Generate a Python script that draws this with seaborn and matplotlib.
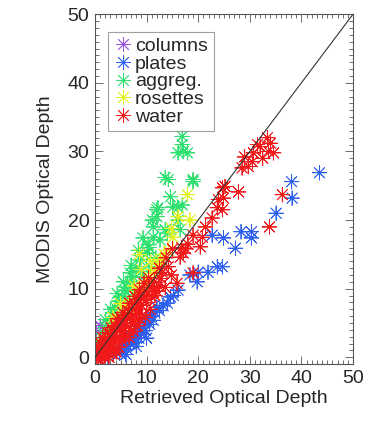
import matplotlib
matplotlib.use("Agg")
import matplotlib.pyplot as plt
from matplotlib.ticker import MultipleLocator
import numpy as np
import pandas as pd
import seaborn as sns

sns.set_theme(style="ticks")
plt.rcParams['font.family'] = ['Liberation Sans', 'DejaVu Sans']

categories = ["columns", "plates", "aggreg.", "rosettes", "water"]
colors = ["#9955dd", "#2d5ff0", "#2ee070", "#e0f020", "#f01818"]

columns_x = [0.4, 1.2, 2.2, 0.7, 0.3, 1.0]
columns_y = [0.6, 2.0, 3.2, 1.9, 3.5, 4.6]

plates_x = [3.5, 4.2, 4.8, 5.4, 5.8, 6.2, 6.5, 6.8, 7.2, 7.5, 7.8, 8.2, 8.5, 8.7,
            9.0, 9.3, 9.6, 9.8, 10.3, 10.6, 10.9, 11.3, 11.6, 12.0, 12.5, 13.2,
            14.0, 14.6, 15.2, 16.1, 18.4, 19.8, 20.0, 21.9, 22.7, 23.7, 24.9,
            24.7, 27.2, 28.3, 30.3, 30.3, 35.1, 38.2, 38.1, 43.5, 2.5, 6.0, 8.0, 10.0]
plates_y = [0.5, 1.0, 0.6, 1.0, 1.8, 1.2, 2.5, 2.0, 3.0, 2.2, 3.6, 3.5, 2.8, 4.2,
            3.4, 4.4, 5.0, 3.9, 5.7, 4.8, 6.0, 5.4, 6.5, 7.3, 6.8, 7.5,
            7.9, 8.8, 9.0, 9.8, 12.0, 11.0, 12.4, 12.4, 17.8, 13.2, 17.4,
            13.2, 15.9, 18.3, 18.3, 17.4, 21.0, 23.2, 25.6, 26.9, 0.2, 0.4, 1.6, 2.8]

aggreg_x = [1.0, 1.6, 2.0, 2.9, 3.4, 3.9, 4.5, 5.2, 5.8, 6.2, 6.8, 7.4, 8.0, 8.7,
            9.3, 9.3, 10.1, 10.7, 11.1, 11.3, 11.3, 12.0, 12.0, 12.2, 12.6, 13.6,
            13.6, 14.0, 14.2, 14.6, 15.1, 16.1, 16.1, 16.1, 16.5, 16.9, 16.9, 16.9,
            17.1, 17.9, 19.0, 19.0, 0.5, 0.8, 1.3, 2.4, 3.0, 4.0, 5.0, 6.5, 7.6,
            9.0, 10.5, 11.8, 8.4, 7.0, 4.3, 3.0, 2.0, 5.5, 6.8, 10.3]
aggreg_y = [2.5, 3.5, 4.5, 5.4, 6.5, 7.3, 8.2, 8.8, 9.8, 10.2, 11.0, 11.7, 13.0, 14.2,
            11.7, 17.4, 15.2, 13.2, 20.0, 19.0, 17.5, 21.5, 20.5, 21.8, 17.1, 18.6,
            26.2, 18.1, 25.9, 23.4, 21.9, 21.8, 20.0, 29.8, 18.6, 22.2, 32.2, 31.0,
            30.0, 29.8, 25.6, 25.9, 1.5, 0.9, 1.6, 3.0, 4.0, 5.5, 6.8, 8.6, 9.6,
            12.5, 16.0, 14.5, 15.6, 13.4, 9.3, 7.0, 5.5, 11.0, 12.3, 16.4]

rosettes_x = [0.8, 1.6, 1.6, 2.4, 2.9, 3.2, 3.8, 4.3, 4.6, 5.4, 5.8, 6.4, 6.8, 7.2,
              8.2, 8.5, 9.3, 9.8, 10.3, 11.0, 11.7, 12.4, 12.6, 13.4, 14.2, 15.1,
              16.1, 17.9, 18.4, 8.6, 5.0, 7.6, 9.0, 3.5, 10.8, 14.8]
rosettes_y = [1.4, 1.0, 2.6, 2.2, 2.5, 3.6, 4.8, 3.9, 5.6, 5.4, 6.8, 7.4, 6.9, 8.2,
              8.3, 9.6, 9.8, 11.2, 10.8, 12.2, 12.7, 13.6, 14.2, 15.0, 15.6, 17.5,
              20.5, 23.7, 20.0, 15.0, 7.8, 10.4, 12.8, 5.8, 14.0, 18.8]

water_x = [0.3, 0.5, 0.8, 1.0, 1.2, 1.4, 1.6, 1.8, 2.0, 2.1, 2.3, 2.5, 2.6, 2.8, 3.0,
           3.1, 3.3, 3.5, 3.6, 3.7, 3.9, 4.0, 4.2, 4.4, 4.5, 4.6, 4.8, 5.0, 5.1, 5.3,
           5.5, 5.6, 5.8, 6.0, 6.1, 6.3, 6.5, 6.6, 6.8, 7.0, 7.1, 7.3, 7.5, 7.6, 7.8,
           8.0, 8.2, 8.3, 8.5, 8.7, 8.9, 9.0, 9.2, 9.4, 9.6, 9.8, 10.0, 10.2, 10.5,
           10.7, 11.0, 11.3, 11.6, 12.0, 12.4, 0.2, 0.6, 1.1, 1.9, 2.7, 3.4, 4.1,
           0.9, 1.5, 2.4, 3.2, 4.3, 5.4, 6.7, 7.7, 8.6, 9.5, 10.4, 11.5,
           12.8, 13.6, 14.2, 15.9, 13.0, 14.8, 16.5, 17.1, 17.6, 16.8, 19.0, 19.0,
           20.4, 20.8, 21.4, 22.7, 23.7, 23.9, 25.2, 24.7, 24.9, 24.7, 27.8, 28.5,
           29.7, 30.5, 30.7, 32.0, 33.4, 33.6, 34.6, 33.8, 36.3, 31.5, 32.5, 29.0,
           34.0, 15.0, 18.0, 12.5, 13.8]
water_y = [0.2, 0.8, 0.3, 1.2, 0.6, 1.8, 0.9, 1.5, 2.4, 0.8, 1.9, 2.8, 1.2, 2.2, 3.4,
           1.6, 2.7, 3.9, 0.5, 2.1, 3.2, 4.6, 2.6, 3.8, 5.0, 1.5, 3.0, 4.4, 5.6, 2.4,
           3.8, 5.0, 6.2, 3.2, 4.6, 5.6, 6.8, 2.9, 4.2, 5.4, 7.2, 6.2, 3.8, 5.0, 7.8,
           6.4, 4.6, 8.4, 7.0, 5.5, 9.0, 7.6, 6.2, 8.5, 9.6, 5.8, 8.0, 9.2, 10.2,
           7.0, 8.8, 10.0, 9.0, 9.6, 10.4, 1.0, -0.3, -0.5, 0.2, 0.0, 1.0, 0.8,
           2.2, 2.9, 3.6, 4.3, 5.6, 6.5, 7.9, 8.9, 9.9, 10.8, 11.6, 11.0,
           11.5, 10.2, 13.2, 10.8, 12.4, 12.0, 14.6, 15.2, 15.8, 16.0, 12.3, 17.8,
           16.1, 17.5, 19.0, 20.3, 21.8, 23.0, 24.9, 24.7, 23.2, 21.5, 24.1, 27.6,
           27.8, 28.5, 29.8, 30.7, 32.0, 30.0, 29.8, 19.0, 23.7, 31.0, 29.0, 29.2,
           31.2, 15.8, 16.5, 13.0, 14.5]

series = [("columns", columns_x, columns_y), ("plates", plates_x, plates_y),
          ("aggreg.", aggreg_x, aggreg_y), ("rosettes", rosettes_x, rosettes_y),
          ("water", water_x, water_y)]
df = pd.concat([pd.DataFrame({"retrieved": xs, "modis": ys, "habit": name})
                for name, xs, ys in series], ignore_index=True)

fig = plt.figure(figsize=(3.8, 4.3), dpi=100)
ax = fig.add_axes([0.25, 0.153, 0.679, 0.814])

sns.scatterplot(data=df, x="retrieved", y="modis", hue="habit",
                hue_order=categories, palette=colors, marker=(8, 2, 0),
                s=110, linewidth=0.6, ax=ax, zorder=2)
ax.plot([0, 50], [0, 50], color="#333333", lw=0.8, zorder=3)

ax.set_xlim(0, 50)
ax.set_ylim(-1, 50)
ax.xaxis.set_major_locator(MultipleLocator(10))
ax.yaxis.set_major_locator(MultipleLocator(10))
ax.xaxis.set_minor_locator(MultipleLocator(1))
ax.yaxis.set_minor_locator(MultipleLocator(1))
ax.tick_params(which="both", direction="in", top=True, right=True,
               color="#555555", width=0.6)
ax.tick_params(which="major", length=6, labelsize=14, pad=4)
ax.tick_params(which="minor", length=3)
for sp in ax.spines.values():
    sp.set_color("#555555")
    sp.set_linewidth(0.8)

ax.set_xlabel("Retrieved Optical Depth", fontsize=14, labelpad=2)
ax.set_ylabel("MODIS Optical Depth", fontsize=14, labelpad=10)

sns.move_legend(ax, "upper left", bbox_to_anchor=(0.05, 0.95), title=None,
                frameon=True, fancybox=False, edgecolor="#888888",
                fontsize=14, handletextpad=0.1, labelspacing=0.0,
                handlelength=1.0, borderpad=0.3, borderaxespad=0)
leg = ax.get_legend()
leg.get_frame().set_linewidth(0.8)

fig.savefig("out.png", dpi=100)
